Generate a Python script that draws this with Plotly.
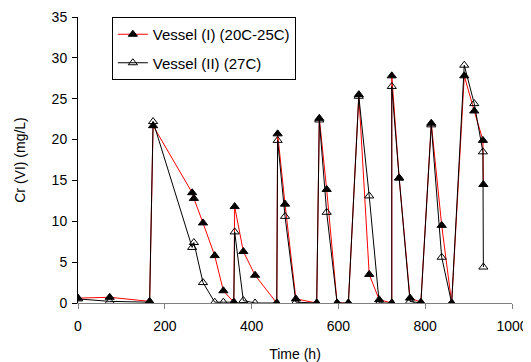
import plotly.graph_objects as go

time_h = [0, 73, 165, 173, 263, 267, 288, 315, 335, 359, 361, 381, 408, 458, 460, 477, 502, 550, 556, 573, 597, 623, 647, 671, 694, 723, 723, 740, 765, 790, 814, 838, 861, 890, 913, 933, 934]
vessel1 = [0.6, 0.7, 0.2, 21.7, 13.5, 12.8, 9.8, 5.8, 1.5, 0.1, 11.8, 6.3, 3.4, 0.0, 20.7, 12.1, 0.5, 0.0, 22.6, 13.9, 0.0, 0.0, 25.5, 3.5, 0.4, 0.0, 27.8, 15.3, 0.6, 0.1, 22.0, 9.5, 0.0, 27.8, 23.5, 19.9, 14.5]
vessel2 = [0.5, 0.2, 0.1, 22.2, 6.8, 7.4, 2.5, 0.1, 0.1, 0.1, 8.7, 0.3, 0.0, 0.0, 19.9, 10.6, 0.1, 0.0, 22.4, 11.1, 0.0, 0.0, 25.3, 13.1, 0.0, 0.0, 26.5, 15.3, 0.2, 0.0, 21.8, 5.6, 0.0, 29.1, 24.4, 18.5, 4.4]

x_ticks = [0, 200, 400, 600, 800, 1000]
y_ticks = [0, 5, 10, 15, 20, 25, 30, 35]

fig = go.Figure()
fig.add_trace(go.Scatter(
    x=time_h, y=vessel1, mode="lines+markers", name="Vessel (I) (20C-25C)",
    legendgroup="a",
    line=dict(color="#ff0000", width=1),
    marker=dict(symbol="triangle-up", size=8, color="black", line=dict(color="black", width=1)),
))
fig.add_trace(go.Scatter(
    x=time_h, y=vessel2, mode="lines+markers", name="Vessel (II) (27C)",
    legendgroup="b",
    line=dict(color="black", width=1),
    marker=dict(symbol="triangle-up-open", size=8, color="black", line=dict(color="black", width=1)),
))

fig.update_layout(
    width=523, height=354,
    margin=dict(l=70, r=19, t=9, b=59),
    paper_bgcolor="white", plot_bgcolor="white",
    font=dict(family="Liberation Sans, Arial, sans-serif", size=14, color="black"),
    showlegend=True,
    legend=dict(
        x=0.078, y=1.0, xanchor="left", yanchor="top",
        bordercolor="black", borderwidth=1, bgcolor="white",
        font=dict(size=15), traceorder="grouped", tracegroupgap=6,
    ),
    xaxis=dict(
        range=[0, 1000], tickvals=x_ticks, showgrid=False, zeroline=False,
        showline=True, linecolor="#808080", linewidth=1,
        ticks="outside", tickcolor="#808080", ticklen=5, automargin=False,
        ticklabelstandoff=5,
        title=dict(text="Time (h)", font=dict(size=14), standoff=16),
    ),
    yaxis=dict(
        range=[0, 35], tickvals=y_ticks, showgrid=False, zeroline=False,
        showline=True, linecolor="black", linewidth=1,
        ticks="outside", tickcolor="black", ticklen=5, automargin=False,
        ticklabelstandoff=2,
        title=dict(text="Cr (VI) (mg/L)", font=dict(size=14), standoff=22),
    ),
)

fig.write_html("out.html")
